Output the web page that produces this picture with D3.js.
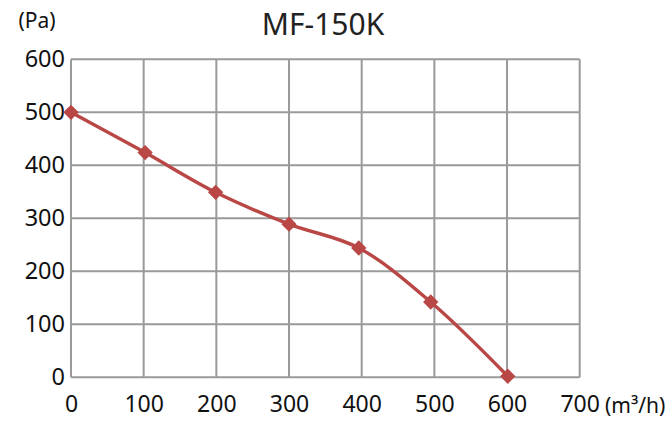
<!DOCTYPE html>
<html><head><meta charset="utf-8">
<script src="https://cdn.jsdelivr.net/npm/d3@7"></script>
<style>body{margin:0;background:#fff}svg{display:block}</style>
</head><body>
<svg id="c" width="670" height="422"></svg>
<script>
const title = "MF-150K";
const flow = [0, 102, 199, 300, 396, 495, 601];
const pressure = [500, 424, 349, 289, 244, 142, 2];
const xTicks = [0, 100, 200, 300, 400, 500, 600, 700];
const yTicks = [0, 100, 200, 300, 400, 500, 600];
const xUnit = "(m³/h)";
const yUnit = "(Pa)";

const svg = d3.select("#c");
const m = {l: 71, r: 90.3, t: 59.3, b: 44.7};
const W = 670, H = 422;
const x = d3.scaleLinear().domain([0, 700]).range([m.l, W - m.r]);
const y = d3.scaleLinear().domain([0, 600]).range([H - m.b, m.t]);
const font = "'Noto Sans', sans-serif";
const grid = "#9a9a9a";

// gridlines
svg.append("g").selectAll("line").data(xTicks).join("line")
  .attr("x1", d => x(d)).attr("x2", d => x(d))
  .attr("y1", y(0)).attr("y2", y(600))
  .attr("stroke", grid).attr("stroke-width", 2);
svg.append("g").selectAll("line").data(yTicks).join("line")
  .attr("y1", d => y(d)).attr("y2", d => y(d))
  .attr("x1", x(0)).attr("x2", x(700))
  .attr("stroke", grid).attr("stroke-width", 2);

// axes labels
const xa = svg.append("g").attr("transform", `translate(0,${y(0)})`)
  .call(d3.axisBottom(x).tickValues(xTicks).tickSize(0).tickPadding(18));
xa.select(".domain").remove();
xa.selectAll("text").attr("font-family", font).attr("font-size", 23).attr("fill", "#111");

const ya = svg.append("g").attr("transform", `translate(${x(0)},0)`)
  .call(d3.axisLeft(y).tickValues(yTicks).tickSize(0).tickPadding(6));
ya.select(".domain").remove();
ya.selectAll("text").attr("font-family", font).attr("font-size", 23.5).attr("fill", "#111");

svg.append("text").attr("x", 605).attr("y", 413)
  .attr("font-family", font).attr("font-size", 21).attr("fill", "#111")
  .text(xUnit);
svg.append("text").attr("x", 37).attr("y", 28)
  .attr("text-anchor", "middle")
  .attr("font-family", font).attr("font-size", 21).attr("fill", "#111").text(yUnit);
svg.append("text").attr("x", 323).attr("y", 35)
  .attr("text-anchor", "middle")
  .attr("font-family", font).attr("font-size", 30).attr("fill", "#222").text(title);

// curve
const pts = flow.map((f, i) => [f, pressure[i]]);
const color = "#b94745";
svg.append("path").datum(pts)
  .attr("d", d3.line().x(d => x(d[0])).y(d => y(d[1])).curve(d3.curveCatmullRom.alpha(0.5)))
  .attr("fill", "none").attr("stroke", color).attr("stroke-width", 3.4);

svg.append("g").selectAll("path").data(pts).join("path")
  .attr("transform", d => `translate(${x(d[0])},${y(d[1])})`)
  .attr("d", d3.symbol(d3.symbolDiamond2, 150)())
  .attr("fill", color);
</script>
</body></html>
